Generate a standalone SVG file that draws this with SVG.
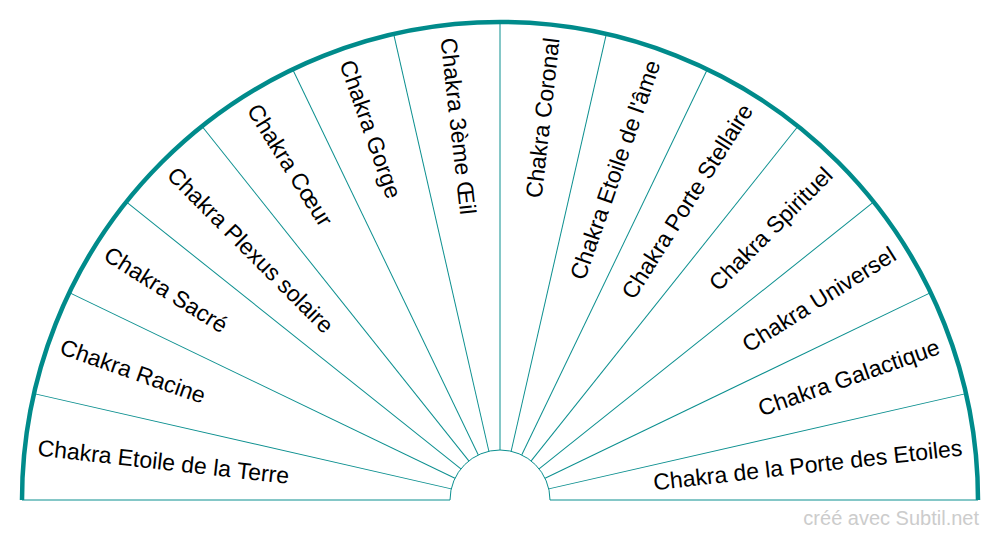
<svg xmlns="http://www.w3.org/2000/svg" width="1000" height="540" viewBox="0 0 1000 540">
<style>
.ln{stroke:#0b8f8f;stroke-width:1;fill:none}
.outer{stroke:#008b8b;stroke-width:4.5;fill:none}
.lbl{font-family:"Liberation Sans",Arial,sans-serif;font-size:23px;fill:#000}
.r{text-anchor:end}
.wm{font-family:"Liberation Sans",Arial,sans-serif;font-size:20px;fill:#cccccc;text-anchor:end}
</style>
<rect width="1000" height="540" fill="#fff"/>
<g id="connectors" transform="translate(500,500)">
<path class="ln" d="M-478,0 H-50 M50,0 H478"/>
<path class="ln" d="M-50,0 A50,50 0 0 1 50,0"/>
<line class="ln" x1="-50" y1="0" x2="-478" y2="0" transform="rotate(12.857143)"/>
<line class="ln" x1="-50" y1="0" x2="-478" y2="0" transform="rotate(25.714286)"/>
<line class="ln" x1="-50" y1="0" x2="-478" y2="0" transform="rotate(38.571429)"/>
<line class="ln" x1="-50" y1="0" x2="-478" y2="0" transform="rotate(51.428571)"/>
<line class="ln" x1="-50" y1="0" x2="-478" y2="0" transform="rotate(64.285714)"/>
<line class="ln" x1="-50" y1="0" x2="-478" y2="0" transform="rotate(77.142857)"/>
<line class="ln" x1="-50" y1="0" x2="-478" y2="0" transform="rotate(90)"/>
<line class="ln" x1="-50" y1="0" x2="-478" y2="0" transform="rotate(102.857143)"/>
<line class="ln" x1="-50" y1="0" x2="-478" y2="0" transform="rotate(115.714286)"/>
<line class="ln" x1="-50" y1="0" x2="-478" y2="0" transform="rotate(128.571429)"/>
<line class="ln" x1="-50" y1="0" x2="-478" y2="0" transform="rotate(141.428571)"/>
<line class="ln" x1="-50" y1="0" x2="-478" y2="0" transform="rotate(154.285714)"/>
<line class="ln" x1="-50" y1="0" x2="-478" y2="0" transform="rotate(167.142857)"/>
<path class="outer" d="M-478,0 A478,478 0 0 1 478,0"/>
</g>
<g transform="translate(500,500)">
<g id="n1"><text class="lbl" x="-465" y="0" dy="0.33em" transform="rotate(6.428571)">Chakra Etoile de la Terre</text></g>
<g id="n2"><text class="lbl" x="-465" y="0" dy="0.33em" transform="rotate(19.285714)">Chakra Racine</text></g>
<g id="n3"><text class="lbl" x="-465" y="0" dy="0.33em" transform="rotate(32.142857)">Chakra Sacré</text></g>
<g id="n4"><text class="lbl" x="-465" y="0" dy="0.33em" transform="rotate(45)">Chakra Plexus solaire</text></g>
<g id="n5"><text class="lbl" x="-465" y="0" dy="0.33em" transform="rotate(57.857143)">Chakra Cœur</text></g>
<g id="n6"><text class="lbl" x="-465" y="0" dy="0.33em" transform="rotate(70.714286)">Chakra Gorge</text></g>
<g id="n7"><text class="lbl" x="-465" y="0" dy="0.33em" transform="rotate(83.571429)">Chakra 3ème Œil</text></g>
<g id="n8"><text class="lbl r" x="465" y="0" dy="0.33em" transform="rotate(-83.571429)">Chakra Coronal</text></g>
<g id="n9"><text class="lbl r" x="465" y="0" dy="0.33em" transform="rotate(-70.714286)">Chakra Etoile de l'âme</text></g>
<g id="n10"><text class="lbl r" x="465" y="0" dy="0.33em" transform="rotate(-57.857143)">Chakra Porte Stellaire</text></g>
<g id="n11"><text class="lbl r" x="465" y="0" dy="0.33em" transform="rotate(-45)">Chakra Spirituel</text></g>
<g id="n12"><text class="lbl r" x="465" y="0" dy="0.33em" transform="rotate(-32.142857)">Chakra Universel</text></g>
<g id="n13"><text class="lbl r" x="465" y="0" dy="0.33em" transform="rotate(-19.285714)">Chakra Galactique</text></g>
<g id="n14"><text class="lbl r" x="465" y="0" dy="0.33em" transform="rotate(-6.428571)">Chakra de la Porte des Etoiles</text></g>
</g>
<text class="wm" x="979" y="525">créé avec Subtil.net</text>
</svg>
